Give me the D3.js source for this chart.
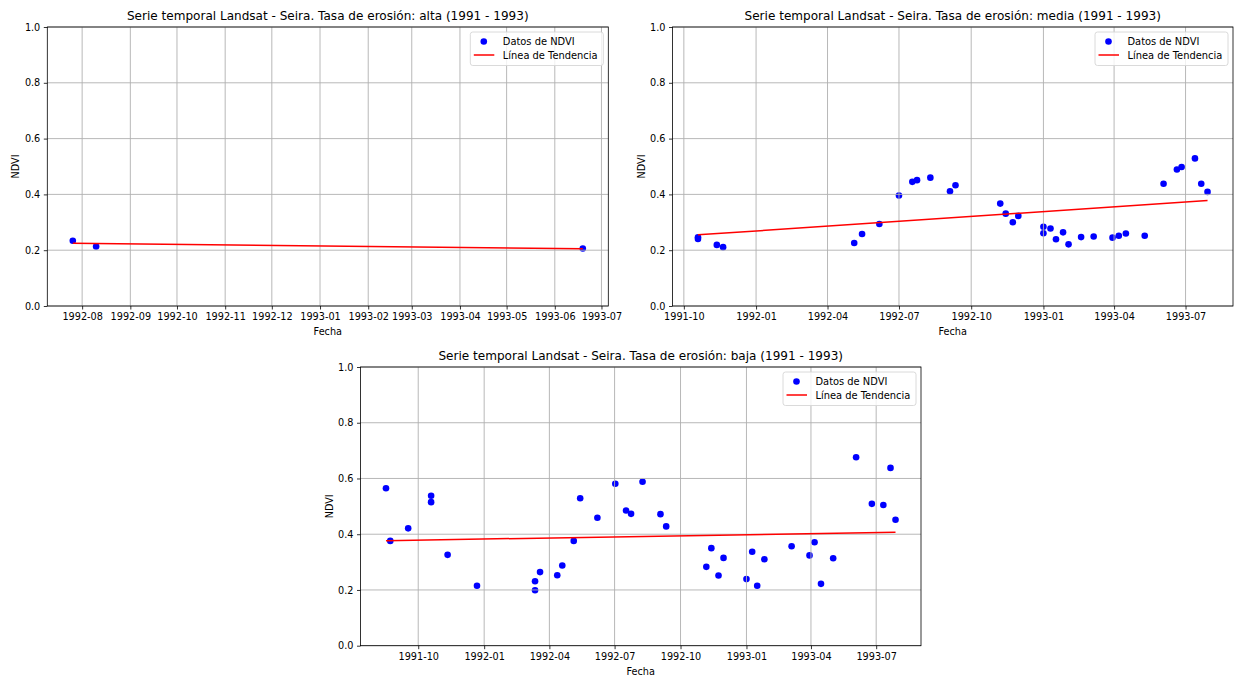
<!DOCTYPE html>
<html>
<head>
<meta charset="utf-8">
<script src="https://cdn.jsdelivr.net/npm/d3@7"></script>
<style>
  body { margin: 0; background: #fff; }
  text { font-family: "DejaVu Sans", sans-serif; fill: #000; }
</style>
</head>
<body>
<div id="chart"></div>
<script>
// --- data ---
var altaFechas = ["1992-07-26", "1992-08-10", "1993-06-19"];
var altaNdvi = [0.234, 0.213, 0.206];
var altaTendencia = [0.225, 0.205];

var mediaFechas = ["1991-10-19", "1991-10-19", "1991-11-12", "1991-11-20", "1992-05-05", "1992-05-15",
  "1992-06-06", "1992-07-01", "1992-07-18", "1992-07-24", "1992-08-10", "1992-09-04", "1992-09-11",
  "1992-11-07", "1992-11-14", "1992-11-23", "1992-11-30", "1993-01-01", "1993-01-01", "1993-01-10",
  "1993-01-17", "1993-01-26", "1993-02-02", "1993-02-18", "1993-03-06", "1993-03-30", "1993-04-07",
  "1993-04-16", "1993-05-10", "1993-06-03", "1993-06-20", "1993-06-26", "1993-07-13", "1993-07-21",
  "1993-07-29"];
var mediaNdvi = [0.246, 0.240, 0.219, 0.211, 0.226, 0.258,
  0.294, 0.396, 0.445, 0.451, 0.460, 0.411, 0.433,
  0.367, 0.331, 0.300, 0.323, 0.284, 0.261, 0.278,
  0.239, 0.264, 0.221, 0.247, 0.249, 0.245, 0.252,
  0.260, 0.252, 0.438, 0.489, 0.498, 0.529, 0.438,
  0.409];
var mediaTendencia = [0.255, 0.378];

var bajaFechas = ["1991-08-17", "1991-08-23", "1991-09-17", "1991-10-19", "1991-10-19", "1991-11-11",
  "1991-12-22", "1992-03-12", "1992-03-12", "1992-03-19", "1992-04-12", "1992-04-19", "1992-05-05",
  "1992-05-14", "1992-06-07", "1992-07-02", "1992-07-17", "1992-07-24", "1992-08-09", "1992-09-03",
  "1992-09-11", "1992-11-06", "1992-11-13", "1992-11-23", "1992-11-30", "1993-01-01", "1993-01-09",
  "1993-01-16", "1993-01-26", "1993-03-05", "1993-03-30", "1993-04-06", "1993-04-15", "1993-05-02",
  "1993-06-03", "1993-06-25", "1993-07-11", "1993-07-21", "1993-07-28"];
var bajaNdvi = [0.565, 0.376, 0.421, 0.538, 0.515, 0.326,
  0.215, 0.231, 0.199, 0.264, 0.253, 0.288, 0.376,
  0.529, 0.459, 0.581, 0.485, 0.473, 0.588, 0.472,
  0.428, 0.283, 0.350, 0.252, 0.315, 0.239, 0.337,
  0.215, 0.310, 0.357, 0.324, 0.371, 0.222, 0.314,
  0.676, 0.509, 0.505, 0.638, 0.452];
var bajaTendencia = [0.377, 0.407];

var yTicks = [0.0, 0.2, 0.4, 0.6, 0.8, 1.0];
var titulo = "Serie temporal Landsat - Seira. Tasa de erosión: ";
var leyenda = ["Datos de NDVI", "Línea de Tendencia"];

var width = 1238, height = 677;
var parse = d3.utcParse("%Y-%m-%d");

var svg = d3.select("#chart")
  .append("svg")
  .attr("width", width)
  .attr("height", height);

svg.append("rect")
  .attr("width", width)
  .attr("height", height)
  .attr("fill", "white");

function drawPanel(p) {
  var fechas = p.fechas.map(parse);
  var ext = d3.extent(fechas);
  var pad = (ext[1] - ext[0]) * 0.05;

  var x = d3.scaleUtc()
    .domain([new Date(+ext[0] - pad), new Date(+ext[1] + pad)])
    .range([p.left, p.right]);
  var y = d3.scaleLinear()
    .domain([0, 1])
    .range([p.bottom, p.top]);

  var g = svg.append("g");
  var ticksX = x.ticks(d3.utcMonth.every(p.months));

  // puntos
  g.selectAll("circle")
    .data(fechas)
    .enter()
    .append("circle")
    .attr("cx", d => x(d))
    .attr("cy", (d, i) => y(p.ndvi[i]))
    .attr("r", 3.3)
    .attr("fill", "#0000ff");

  // grid (matplotlib draws it over the scatter)
  g.selectAll(".gx")
    .data(ticksX)
    .enter()
    .append("line")
    .attr("x1", d => x(d)).attr("x2", d => x(d))
    .attr("y1", p.top).attr("y2", p.bottom)
    .attr("stroke", "#b0b0b0")
    .attr("stroke-width", 0.9);
  g.selectAll(".gy")
    .data(yTicks)
    .enter()
    .append("line")
    .attr("x1", p.left).attr("x2", p.right)
    .attr("y1", d => y(d)).attr("y2", d => y(d))
    .attr("stroke", "#b0b0b0")
    .attr("stroke-width", 0.9);

  // tendencia
  g.append("path")
    .attr("d", d3.line()([[x(ext[0]), y(p.tendencia[0])], [x(ext[1]), y(p.tendencia[1])]]))
    .attr("stroke", "#ff0000")
    .attr("stroke-width", 1.5)
    .attr("fill", "none");

  // ejes
  var ax = g.append("g")
    .attr("transform", "translate(0," + p.bottom + ")")
    .call(d3.axisBottom(x).tickValues(ticksX).tickFormat(d3.utcFormat("%Y-%m")).tickSizeOuter(0).tickSize(3.5).tickPadding(3.5));
  var ay = g.append("g")
    .attr("transform", "translate(" + p.left + ",0)")
    .call(d3.axisLeft(y).tickValues(yTicks).tickFormat(d3.format(".1f")).tickSizeOuter(0).tickSize(3.5).tickPadding(3.5));
  [ax, ay].forEach(a => {
    a.select(".domain").remove();
    a.selectAll("line").attr("stroke", "#000").attr("stroke-width", 0.8);
    a.selectAll("text").attr("font-size", 9.7).attr("font-family", "DejaVu Sans").attr("fill", "#000");
  });

  g.append("rect")
    .attr("x", p.left).attr("y", p.top)
    .attr("width", p.right - p.left).attr("height", p.bottom - p.top)
    .attr("fill", "none")
    .attr("stroke", "#000")
    .attr("stroke-width", 0.8);

  // textos
  g.append("text")
    .attr("x", (p.left + p.right) / 2)
    .attr("y", p.top - 7)
    .attr("text-anchor", "middle")
    .attr("font-size", 12.05)
    .text(titulo + p.tasa + " (1991 - 1993)");
  g.append("text")
    .attr("x", (p.left + p.right) / 2)
    .attr("y", p.bottom + 29)
    .attr("text-anchor", "middle")
    .attr("font-size", 9.7)
    .text("Fecha");
  g.append("text")
    .attr("transform", "translate(" + (p.left - 28) + "," + ((p.top + p.bottom) / 2) + ") rotate(-90)")
    .attr("text-anchor", "middle")
    .attr("font-size", 9.7)
    .text("NDVI");

  // leyenda
  var lg = g.append("g")
    .attr("transform", "translate(" + (p.right - 138) + "," + (p.top + 5) + ")");
  lg.append("rect")
    .attr("width", 133).attr("height", 33.5)
    .attr("rx", 2.5)
    .attr("fill", "white").attr("fill-opacity", 0.8)
    .attr("stroke", "#d6d6d6").attr("stroke-width", 0.9);
  lg.append("circle")
    .attr("cx", 13.5).attr("cy", 9.5).attr("r", 3.3)
    .attr("fill", "#0000ff");
  lg.append("line")
    .attr("x1", 3.5).attr("x2", 24).attr("y1", 23).attr("y2", 23)
    .attr("stroke", "#ff0000").attr("stroke-width", 1.5);
  lg.selectAll(".lt")
    .data(leyenda)
    .enter()
    .append("text")
    .attr("x", 32.5)
    .attr("y", (d, i) => 12.8 + i * 13.8)
    .attr("font-size", 9.9)
    .text(d => d);
}

drawPanel({ fechas: altaFechas, ndvi: altaNdvi, tendencia: altaTendencia, tasa: "alta",
  months: 1, left: 47.3, right: 608.3, top: 27, bottom: 306 });
drawPanel({ fechas: mediaFechas, ndvi: mediaNdvi, tendencia: mediaTendencia, tasa: "media",
  months: 3, left: 672.5, right: 1233, top: 27, bottom: 306 });
drawPanel({ fechas: bajaFechas, ndvi: bajaNdvi, tendencia: bajaTendencia, tasa: "baja",
  months: 3, left: 360.5, right: 921, top: 367, bottom: 645.7 });
</script>
</body>
</html>
